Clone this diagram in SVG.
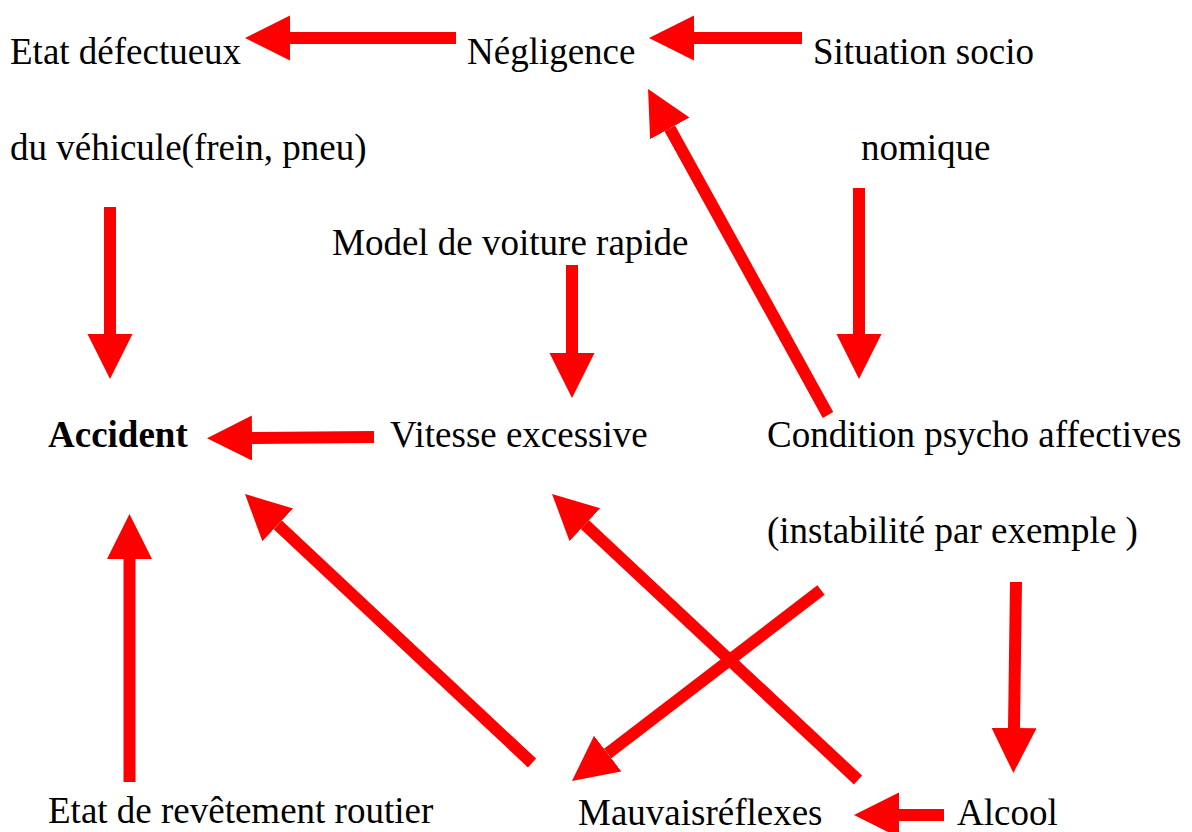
<svg xmlns="http://www.w3.org/2000/svg" width="1192" height="832" viewBox="0 0 1192 832">
<style>
text{font-family:"Liberation Serif","Times New Roman",serif;font-size:37px;fill:#000}
.b{font-weight:bold}
.c line{stroke:#ff0000;stroke-width:12;fill:none;marker-end:url(#ah)}
</style>
<defs>
<marker id="ah" markerUnits="userSpaceOnUse" markerWidth="46" markerHeight="46" refX="0" refY="22.5" orient="auto" viewBox="0 0 46 46">
<path d="M0,0 L45,22.5 L0,45 Z" fill="#ff0000"/>
</marker>
</defs>
<rect width="1192" height="832" fill="#fff"/>
<g id="n-etat-defectueux"><text x="10" y="64">Etat défectueux</text><text x="10" y="160">du véhicule(frein, pneu)</text></g>
<g id="n-negligence"><text x="467" y="64">Négligence</text></g>
<g id="n-situation"><text x="813" y="64">Situation socio</text><text x="861" y="160">nomique</text></g>
<g id="n-model"><text x="332" y="255">Model de voiture rapide</text></g>
<g id="n-accident"><text class="b" x="48" y="447">Accident</text></g>
<g id="n-vitesse"><text x="390" y="447">Vitesse excessive</text></g>
<g id="n-condition"><text x="767" y="447">Condition psycho affectives</text><text x="767" y="543">(instabilité par exemple )</text></g>
<g id="n-revetement"><text x="48" y="823">Etat de revêtement routier</text></g>
<g id="n-mauvais"><text x="578" y="825">Mauvaisréflexes</text></g>
<g id="n-alcool"><text x="957" y="825">Alcool</text></g>
<g id="connectors" class="c">
<line x1="456" y1="38" x2="290" y2="38"/>
<line x1="802" y1="38" x2="694" y2="38"/>
<line x1="110" y1="207" x2="110" y2="334"/>
<line x1="374" y1="437" x2="252" y2="438"/>
<line x1="572" y1="265" x2="572" y2="353"/>
<line x1="859" y1="188" x2="859" y2="334"/>
<line x1="828" y1="415" x2="669.8" y2="128.4"/>
<line x1="129.5" y1="782" x2="129.5" y2="559"/>
<line x1="532" y1="763" x2="277.8" y2="524.8"/>
<line x1="858" y1="780" x2="584.9" y2="524.7"/>
<line x1="821" y1="590" x2="607.7" y2="753.6"/>
<line x1="1016" y1="582" x2="1014" y2="728"/>
<line x1="944" y1="815" x2="899" y2="815"/>
</g>
</svg>
